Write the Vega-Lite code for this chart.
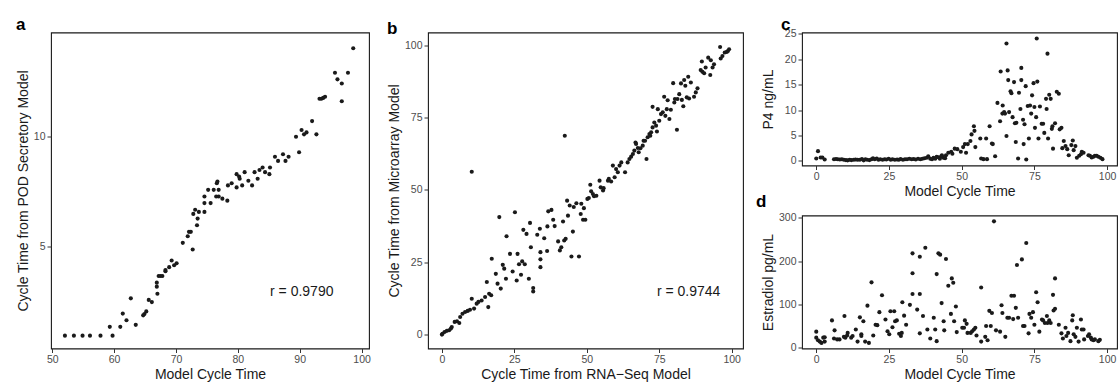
{
  "$schema": "https://vega.github.io/schema/vega-lite/v6.json",
  "background": "white",
  "padding": {"left": 15, "top": 14.5, "right": 0, "bottom": 0},
  "config": {
    "view": {"stroke": "#1a1a1a", "strokeWidth": 1.1},
    "axis": {"domain": false, "grid": false, "tickSize": 4, "tickColor": "#333333", "tickWidth": 1, "labelFont": "Liberation Sans", "labelFontSize": 10.5, "labelColor": "#4d4d4d", "labelPadding": 2, "labelFlush": false, "titleFont": "Liberation Sans", "titleFontSize": 14, "titleFontWeight": "normal", "titleColor": "#1a1a1a", "titlePadding": 3},
    "axisX": {"titlePadding": 2},
    "title": {"font": "Liberation Sans", "fontWeight": "bold", "fontSize": 17, "anchor": "start", "frame": "group", "color": "black", "offset": 0}
  },
  "bounds": "flush",
  "spacing": 59,
  "hconcat": [
    {
      "width": 318, "height": 316,
      "title": {"text": "a", "dx": -35, "dy": 5},
      "layer": [
        {"data": {"values": [{"x":52.05,"y":0.98},{"x":53.5,"y":0.98},{"x":54.9,"y":0.98},{"x":56.1,"y":0.98},{"x":57.8,"y":0.98},{"x":59.3,"y":1.38},{"x":59.75,"y":0.98},{"x":61.0,"y":1.38},{"x":61.4,"y":1.98},{"x":62.0,"y":1.68},{"x":62.7,"y":2.67},{"x":63.5,"y":1.47},{"x":64.7,"y":1.9},{"x":64.9,"y":1.96},{"x":65.2,"y":2.08},{"x":65.6,"y":2.6},{"x":66.1,"y":2.5},{"x":66.9,"y":3.38},{"x":66.9,"y":3.2},{"x":67.0,"y":2.88},{"x":67.2,"y":3.68},{"x":67.5,"y":3.68},{"x":67.8,"y":3.68},{"x":68.3,"y":3.9},{"x":68.3,"y":3.95},{"x":68.9,"y":4.08},{"x":69.3,"y":4.38},{"x":69.7,"y":4.17},{"x":70.1,"y":4.26},{"x":71.1,"y":5.18},{"x":71.9,"y":5.48},{"x":72.1,"y":5.68},{"x":72.4,"y":5.68},{"x":72.7,"y":4.88},{"x":72.8,"y":6.49},{"x":73.1,"y":6.68},{"x":73.4,"y":5.98},{"x":73.5,"y":6.28},{"x":73.7,"y":6.58},{"x":74.6,"y":6.58},{"x":74.6,"y":6.98},{"x":74.6,"y":7.28},{"x":75.2,"y":7.58},{"x":75.6,"y":6.98},{"x":76.1,"y":7.58},{"x":76.5,"y":7.28},{"x":76.6,"y":7.88},{"x":76.7,"y":7.96},{"x":76.9,"y":7.58},{"x":76.9,"y":7.28},{"x":77.5,"y":7.18},{"x":78.3,"y":7.09},{"x":78.4,"y":7.78},{"x":79.0,"y":7.88},{"x":79.8,"y":8.29},{"x":79.8,"y":7.69},{"x":80.2,"y":8.18},{"x":80.3,"y":8.08},{"x":80.7,"y":7.78},{"x":81.1,"y":8.38},{"x":81.7,"y":7.99},{"x":82.3,"y":7.78},{"x":82.7,"y":8.38},{"x":83.2,"y":8.08},{"x":83.5,"y":8.48},{"x":84.0,"y":8.59},{"x":84.4,"y":8.38},{"x":85.1,"y":8.29},{"x":85.2,"y":8.59},{"x":86.0,"y":9.08},{"x":86.5,"y":8.89},{"x":87.3,"y":9.19},{"x":87.7,"y":8.89},{"x":88.2,"y":9.08},{"x":89.4,"y":9.98},{"x":89.9,"y":9.28},{"x":90.3,"y":10.29},{"x":90.7,"y":10.09},{"x":91.1,"y":10.18},{"x":92.0,"y":10.69},{"x":92.7,"y":10.09},{"x":93.2,"y":11.7},{"x":93.5,"y":11.7},{"x":93.8,"y":11.74},{"x":94.1,"y":11.79},{"x":95.7,"y":12.88},{"x":96.1,"y":12.58},{"x":96.8,"y":12.39},{"x":96.8,"y":11.59},{"x":97.8,"y":12.88},{"x":98.65,"y":13.99}]},
         "mark": {"type": "circle", "size": 17, "color": "#1a1a1a", "opacity": 1},
         "encoding": {
           "x": {"field": "x", "type": "quantitative", "title": "Model Cycle Time", "scale": {"domain": [49.8, 101.2], "nice": false, "zero": false}, "axis": {"values": [50, 60, 70, 80, 90, 100]}},
           "y": {"field": "y", "type": "quantitative", "title": "Cycle Time from POD Secretory Model", "scale": {"domain": [0.4, 14.7], "nice": false, "zero": false}, "axis": {"values": [5, 10]}}
         }},
        {"data": {"values": [{"x": 85.2, "y": 2.95, "label": "r = 0.9790"}]},
         "mark": {"type": "text", "align": "left", "baseline": "middle", "font": "Liberation Sans", "fontSize": 14, "color": "#1a1a1a"},
         "encoding": {"x": {"field": "x", "type": "quantitative"}, "y": {"field": "y", "type": "quantitative"}, "text": {"field": "label"}}}
      ]
    },
    {
      "width": 315, "height": 316,
      "title": {"text": "b", "dx": -41, "dy": 9.5},
      "layer": [
        {"data": {"values": [{"x":0,"y":0},{"x":0.2,"y":0.3},{"x":0.9,"y":0.9},{"x":1.7,"y":1.3},{"x":2.5,"y":1.5},{"x":3.1,"y":2.1},{"x":3.4,"y":2.6},{"x":4.4,"y":4.4},{"x":5.2,"y":4.6},{"x":6,"y":4},{"x":6.3,"y":6.1},{"x":7.1,"y":7.2},{"x":8,"y":7.8},{"x":8.9,"y":8.2},{"x":9.7,"y":8.6},{"x":10.3,"y":12.4},{"x":11.1,"y":9},{"x":12,"y":10.7},{"x":12.6,"y":11.3},{"x":13.7,"y":11.8},{"x":14.9,"y":13},{"x":15.5,"y":18.2},{"x":16.3,"y":14.1},{"x":16,"y":9.5},{"x":17.2,"y":26.2},{"x":17,"y":13.6},{"x":18.6,"y":21},{"x":19.2,"y":17.6},{"x":19.8,"y":40.6},{"x":20.3,"y":15.9},{"x":21,"y":24.1},{"x":21.5,"y":22.8},{"x":22.1,"y":19.3},{"x":22.3,"y":34},{"x":23.5,"y":27.9},{"x":24.4,"y":21.8},{"x":25.2,"y":42.3},{"x":25.8,"y":18.7},{"x":26.1,"y":27.9},{"x":26.6,"y":24.3},{"x":27.3,"y":20.7},{"x":27.7,"y":25.3},{"x":28.1,"y":36.2},{"x":28.6,"y":24.3},{"x":29.2,"y":34.8},{"x":30,"y":19.3},{"x":30.4,"y":38.6},{"x":30.7,"y":30.2},{"x":31.5,"y":16.1},{"x":31.5,"y":14.9},{"x":32.9,"y":34.5},{"x":33.8,"y":36.6},{"x":34,"y":28.5},{"x":34,"y":26},{"x":34,"y":23.3},{"x":35.3,"y":33.3},{"x":36.3,"y":28.9},{"x":36.4,"y":37.4},{"x":36.7,"y":42.6},{"x":37.8,"y":43.1},{"x":38.4,"y":39.7},{"x":38.9,"y":37.5},{"x":40.1,"y":32.2},{"x":40.7,"y":29.1},{"x":41.2,"y":30.2},{"x":41.8,"y":39.1},{"x":42.2,"y":32.5},{"x":42.4,"y":68.7},{"x":42.7,"y":33.1},{"x":43.2,"y":46.3},{"x":43.5,"y":41.1},{"x":44.1,"y":44.6},{"x":44.7,"y":27},{"x":45.2,"y":35.6},{"x":45.5,"y":44.1},{"x":46.4,"y":45.4},{"x":47.3,"y":27},{"x":47.9,"y":41.7},{"x":48.1,"y":45.2},{"x":48.7,"y":39.7},{"x":49,"y":43.7},{"x":49.5,"y":39.7},{"x":50.2,"y":46.9},{"x":50.7,"y":47.2},{"x":51.2,"y":51.8},{"x":51.5,"y":49.5},{"x":52.1,"y":48.6},{"x":52.5,"y":47.8},{"x":53.3,"y":48},{"x":54.4,"y":53.2},{"x":54.8,"y":50.9},{"x":55.6,"y":49.8},{"x":55.8,"y":50.6},{"x":57.3,"y":53.2},{"x":57.6,"y":53.8},{"x":58.4,"y":52.9},{"x":59,"y":58.4},{"x":59.6,"y":54.4},{"x":60.1,"y":57.2},{"x":60.7,"y":56.1},{"x":61.3,"y":58.4},{"x":61.9,"y":59.5},{"x":63.2,"y":56.1},{"x":64.1,"y":59.5},{"x":64.7,"y":60.7},{"x":65.3,"y":61.5},{"x":65.9,"y":62.4},{"x":66.4,"y":63.6},{"x":66.8,"y":66.4},{"x":67,"y":65.9},{"x":67.6,"y":64.5},{"x":67.9,"y":63},{"x":68.5,"y":64.4},{"x":69.3,"y":65.3},{"x":69.6,"y":67},{"x":70.1,"y":67},{"x":70.6,"y":60.7},{"x":71,"y":68.2},{"x":71.6,"y":69.3},{"x":71.9,"y":68.7},{"x":72.2,"y":69.9},{"x":72.7,"y":78.7},{"x":72.7,"y":71.6},{"x":73.3,"y":73.3},{"x":73.9,"y":72.2},{"x":74.2,"y":70.2},{"x":74.5,"y":77.9},{"x":75,"y":73.9},{"x":75.6,"y":76.2},{"x":76.2,"y":76.8},{"x":76.7,"y":82.2},{"x":77.1,"y":75.6},{"x":77.6,"y":77.9},{"x":77.9,"y":81},{"x":78.5,"y":74.5},{"x":79,"y":77.7},{"x":79.8,"y":86.9},{"x":80.2,"y":80.2},{"x":80.4,"y":81.4},{"x":81.1,"y":70.8},{"x":81.3,"y":81.4},{"x":81.9,"y":83.1},{"x":82.5,"y":86.8},{"x":82.8,"y":81.1},{"x":83.3,"y":78.9},{"x":83.6,"y":88},{"x":84,"y":86},{"x":84.5,"y":82},{"x":85,"y":89.1},{"x":85.3,"y":81.6},{"x":85.9,"y":87.1},{"x":87,"y":82.2},{"x":87.6,"y":83.7},{"x":88.2,"y":85.1},{"x":89.7,"y":94.4},{"x":89.3,"y":91.4},{"x":89.9,"y":90.8},{"x":90.5,"y":90.3},{"x":91,"y":92.3},{"x":91.9,"y":95.7},{"x":92.6,"y":89.7},{"x":92.8,"y":94.8},{"x":93.4,"y":92.3},{"x":93.9,"y":93.4},{"x":96,"y":99.4},{"x":96.2,"y":95.4},{"x":96.8,"y":96.3},{"x":97.6,"y":97.5},{"x":98.3,"y":97.7},{"x":98.7,"y":98},{"x":99.1,"y":98.6},{"x":10.3,"y":56.3}]},
         "mark": {"type": "circle", "size": 17, "color": "#1a1a1a", "opacity": 1},
         "encoding": {
           "x": {"field": "x", "type": "quantitative", "title": "Cycle Time from RNA−Seq Model", "scale": {"domain": [-4.8, 103.9], "nice": false, "zero": false}, "axis": {"values": [0, 25, 50, 75, 100]}},
           "y": {"field": "y", "type": "quantitative", "title": "Cycle Time from Microarray Model", "scale": {"domain": [-4.8, 104.4], "nice": false, "zero": false}, "axis": {"values": [0, 25, 50, 75, 100]}}
         }},
        {"data": {"values": [{"x": 74.2, "y": 14.8, "label": "r = 0.9744"}]},
         "mark": {"type": "text", "align": "left", "baseline": "middle", "font": "Liberation Sans", "fontSize": 14, "color": "#1a1a1a"},
         "encoding": {"x": {"field": "x", "type": "quantitative"}, "y": {"field": "y", "type": "quantitative"}, "text": {"field": "label"}}}
      ]
    },
    {
      "bounds": "flush",
      "spacing": 50,
      "vconcat": [
        {
          "width": 315, "height": 133,
          "title": {"text": "c", "dx": -21, "dy": 9},
          "data": {"values": [{"x":0,"y":0.46},{"x":0.6,"y":1.9},{"x":1.5,"y":0.65},{"x":2.1,"y":0.65},{"x":2.9,"y":0.26},{"x":6.1,"y":0.3},{"x":6.8,"y":0.35},{"x":7.4,"y":0.3},{"x":8.1,"y":0.25},{"x":8.8,"y":0.3},{"x":9.5,"y":0.2},{"x":10.2,"y":0.15},{"x":10.8,"y":0.1},{"x":11.5,"y":0.2},{"x":12.1,"y":0.15},{"x":12.9,"y":0.2},{"x":13.5,"y":0.25},{"x":14.2,"y":0.2},{"x":15,"y":0.2},{"x":15.7,"y":0.35},{"x":16.3,"y":0.1},{"x":16.9,"y":0.3},{"x":17.5,"y":0.2},{"x":18.3,"y":0.15},{"x":19,"y":0.3},{"x":19.5,"y":0.5},{"x":20.1,"y":0.3},{"x":20.8,"y":0.45},{"x":21.4,"y":0.2},{"x":22,"y":0.3},{"x":22.8,"y":0.2},{"x":23.5,"y":0.3},{"x":24.1,"y":0.25},{"x":24.9,"y":0.4},{"x":25.6,"y":0.2},{"x":26.2,"y":0.3},{"x":27,"y":0.2},{"x":27.8,"y":0.25},{"x":28.4,"y":0.2},{"x":29,"y":0.35},{"x":29.8,"y":0.2},{"x":30.5,"y":0.3},{"x":31.2,"y":0.3},{"x":32,"y":0.4},{"x":32.8,"y":0.3},{"x":33.5,"y":0.35},{"x":34.2,"y":0.25},{"x":35,"y":0.4},{"x":35.8,"y":0.3},{"x":36.5,"y":0.4},{"x":37.2,"y":0.5},{"x":38,"y":0.6},{"x":38.5,"y":0.9},{"x":39.2,"y":0.4},{"x":39.8,"y":0.3},{"x":40.3,"y":0.6},{"x":40.9,"y":0.4},{"x":41.4,"y":0.8},{"x":42,"y":0.7},{"x":42.5,"y":0.4},{"x":43,"y":0.9},{"x":43.7,"y":0.6},{"x":44.3,"y":0.5},{"x":43.2,"y":1.1},{"x":44.6,"y":1.1},{"x":45.4,"y":1.6},{"x":46.4,"y":1.8},{"x":46.8,"y":1.4},{"x":47.6,"y":2.4},{"x":48.5,"y":2.3},{"x":49.7,"y":1.8},{"x":50.5,"y":2.7},{"x":51.1,"y":3.3},{"x":51.5,"y":1.6},{"x":52.1,"y":3.3},{"x":53,"y":3.9},{"x":53.4,"y":5.2},{"x":54.2,"y":6.8},{"x":54.4,"y":5.9},{"x":54.7,"y":2.7},{"x":56.4,"y":4.4},{"x":56.7,"y":0.46},{"x":57.5,"y":0.33},{"x":58.4,"y":4.4},{"x":58.7,"y":0.33},{"x":59.6,"y":6.8},{"x":60.4,"y":3.4},{"x":60.7,"y":3.3},{"x":61.5,"y":0.9},{"x":62.3,"y":11.4},{"x":63.2,"y":7.8},{"x":63.4,"y":17.6},{"x":64,"y":9.3},{"x":64.1,"y":10.9},{"x":64.6,"y":9.6},{"x":64.9,"y":9.3},{"x":65.4,"y":4.9},{"x":65.4,"y":23.1},{"x":65.8,"y":17.8},{"x":66,"y":15.9},{"x":66.3,"y":9.6},{"x":66.8,"y":13.7},{"x":67.1,"y":13.3},{"x":67.5,"y":8.6},{"x":68,"y":15.5},{"x":68.3,"y":7.4},{"x":68.6,"y":3.7},{"x":68.8,"y":7.5},{"x":69.4,"y":0.46},{"x":69.7,"y":13.4},{"x":70.2,"y":10.2},{"x":70.5,"y":18.3},{"x":70.5,"y":15.9},{"x":71.1,"y":8.1},{"x":71.3,"y":3.3},{"x":71.6,"y":7.2},{"x":72,"y":14.7},{"x":72.2,"y":0.26},{"x":72.7,"y":10.8},{"x":73.1,"y":4.4},{"x":73.5,"y":10.9},{"x":73.9,"y":9.3},{"x":74.2,"y":12.9},{"x":74.7,"y":15.3},{"x":75,"y":10.6},{"x":75.2,"y":6.5},{"x":75.6,"y":8.6},{"x":75.8,"y":24.1},{"x":76,"y":15.6},{"x":76.4,"y":4.4},{"x":76.9,"y":10.7},{"x":77.5,"y":7.3},{"x":78,"y":7.3},{"x":78.4,"y":5.5},{"x":79,"y":12.2},{"x":79.2,"y":10.2},{"x":79.5,"y":21.1},{"x":79.7,"y":4.4},{"x":80.1,"y":13},{"x":80.6,"y":12.2},{"x":81,"y":6.3},{"x":81.2,"y":6.8},{"x":81.4,"y":2.4},{"x":82.1,"y":7.4},{"x":82.7,"y":13.6},{"x":83.4,"y":13.2},{"x":83.7,"y":6.2},{"x":84.3,"y":6.5},{"x":84.6,"y":2.5},{"x":85.1,"y":3.9},{"x":85.7,"y":2.9},{"x":86.3,"y":2.3},{"x":86.8,"y":1.1},{"x":87.7,"y":3.1},{"x":88.2,"y":4},{"x":88.5,"y":2.1},{"x":89.1,"y":2.9},{"x":89.6,"y":0.6},{"x":90.4,"y":1},{"x":91,"y":1.3},{"x":91.3,"y":1.8},{"x":91.9,"y":1.6},{"x":93.6,"y":1.1},{"x":94.1,"y":1},{"x":94.7,"y":0.65},{"x":95.3,"y":0.8},{"x":95.8,"y":1},{"x":96.4,"y":1},{"x":97,"y":0.8},{"x":97.7,"y":0.6},{"x":98.4,"y":0.33}]},
          "mark": {"type": "circle", "size": 17, "color": "#1a1a1a", "opacity": 1},
          "encoding": {
            "x": {"field": "x", "type": "quantitative", "title": "Model Cycle Time", "scale": {"domain": [-4.9, 103.4], "nice": false, "zero": false}, "axis": {"values": [0, 25, 50, 75, 100]}},
            "y": {"field": "y", "type": "quantitative", "title": "P4 ng/mL", "scale": {"domain": [-0.92, 25.27], "nice": false, "zero": false}, "axis": {"values": [0, 5, 10, 15, 20, 25], "titlePadding": 9}}
          }
        },
        {
          "width": 315, "height": 133,
          "title": {"text": "d", "dx": -46, "dy": 2.5},
          "data": {"values": [{"x":0,"y":37},{"x":0,"y":23},{"x":0.6,"y":17},{"x":1.2,"y":14},{"x":1.8,"y":11},{"x":2.4,"y":23},{"x":2.9,"y":14},{"x":2.9,"y":24},{"x":5.4,"y":63},{"x":6.3,"y":40},{"x":6.1,"y":21},{"x":7.2,"y":19},{"x":8,"y":19},{"x":9.5,"y":25},{"x":9.7,"y":73},{"x":10,"y":23},{"x":10.6,"y":28},{"x":10.8,"y":34},{"x":12,"y":23},{"x":12.5,"y":27},{"x":13.6,"y":42},{"x":14.2,"y":14},{"x":15,"y":70},{"x":15.5,"y":31},{"x":15.5,"y":27},{"x":16.2,"y":61},{"x":16.8,"y":14},{"x":17.6,"y":97},{"x":18.1,"y":11},{"x":19,"y":151},{"x":19.6,"y":28},{"x":20.4,"y":53},{"x":21,"y":52},{"x":21.7,"y":82},{"x":22.6,"y":121},{"x":23.8,"y":65},{"x":24.5,"y":38},{"x":25.1,"y":31},{"x":25.5,"y":84},{"x":26.2,"y":47},{"x":26.8,"y":84},{"x":27.1,"y":61},{"x":27.7,"y":63},{"x":28.5,"y":32},{"x":29.1,"y":27},{"x":29.4,"y":34},{"x":29.6,"y":105},{"x":30.2,"y":74},{"x":30.9,"y":53},{"x":32.2,"y":99},{"x":33.1,"y":172},{"x":33.1,"y":218},{"x":33.1,"y":124},{"x":34.7,"y":88},{"x":35.6,"y":210},{"x":35.6,"y":124},{"x":35.6,"y":33},{"x":36.7,"y":73},{"x":37.5,"y":231},{"x":38.2,"y":42},{"x":39.2,"y":21},{"x":40.4,"y":69},{"x":40.9,"y":42},{"x":41.4,"y":170},{"x":41.4,"y":15},{"x":42,"y":218},{"x":42.6,"y":215},{"x":43.1,"y":103},{"x":43.8,"y":61},{"x":44,"y":40},{"x":44.6,"y":205},{"x":45.4,"y":143},{"x":46.3,"y":78},{"x":46.6,"y":160},{"x":47.1,"y":150},{"x":47.4,"y":61},{"x":48,"y":95},{"x":48.3,"y":36},{"x":50.2,"y":46},{"x":50.8,"y":46},{"x":51.1,"y":63},{"x":51.7,"y":55},{"x":52,"y":34},{"x":53.1,"y":34},{"x":53.6,"y":38},{"x":54.2,"y":42},{"x":54.7,"y":46},{"x":55.1,"y":28},{"x":56.7,"y":139},{"x":56.7,"y":14},{"x":58.1,"y":25},{"x":58.4,"y":50},{"x":58.9,"y":17},{"x":59.5,"y":85},{"x":60,"y":50},{"x":60.4,"y":80},{"x":61.1,"y":292},{"x":61.8,"y":40},{"x":63.2,"y":37},{"x":63.7,"y":98},{"x":64,"y":80},{"x":65,"y":25},{"x":65.7,"y":69},{"x":66.3,"y":69},{"x":67.1,"y":120},{"x":67.7,"y":66},{"x":68,"y":120},{"x":68.6,"y":92},{"x":69,"y":191},{"x":69.4,"y":69},{"x":70.7,"y":204},{"x":71.1,"y":50},{"x":71.6,"y":50},{"x":72.2,"y":242},{"x":73,"y":33},{"x":73.3,"y":78},{"x":73.9,"y":69},{"x":74.5,"y":82},{"x":75,"y":53},{"x":75.6,"y":128},{"x":76.1,"y":105},{"x":76.7,"y":37},{"x":77.6,"y":65},{"x":78,"y":63},{"x":78.6,"y":57},{"x":79.3,"y":73},{"x":79.5,"y":57},{"x":80.1,"y":63},{"x":80.6,"y":57},{"x":81.4,"y":122},{"x":81.6,"y":86},{"x":82.1,"y":90},{"x":82.1,"y":160},{"x":83.4,"y":53},{"x":84.3,"y":33},{"x":84.8,"y":21},{"x":85.7,"y":46},{"x":86,"y":27},{"x":86.6,"y":34},{"x":87.4,"y":15},{"x":88,"y":63},{"x":88.2,"y":75},{"x":88.5,"y":31},{"x":89.1,"y":25},{"x":89.6,"y":46},{"x":90.2,"y":14},{"x":91,"y":65},{"x":91.3,"y":42},{"x":91.9,"y":42},{"x":92.1,"y":19},{"x":93.4,"y":27},{"x":93.8,"y":31},{"x":94.4,"y":23},{"x":94.7,"y":19},{"x":95.3,"y":17},{"x":95.8,"y":19},{"x":97,"y":15},{"x":97.5,"y":18}]},
          "mark": {"type": "circle", "size": 17, "color": "#1a1a1a", "opacity": 1},
          "encoding": {
            "x": {"field": "x", "type": "quantitative", "title": "Model Cycle Time", "scale": {"domain": [-4.9, 103.4], "nice": false, "zero": false}, "axis": {"values": [0, 25, 50, 75, 100]}},
            "y": {"field": "y", "type": "quantitative", "title": "Estradiol pg/mL", "scale": {"domain": [-2, 305.5], "nice": false, "zero": false}, "axis": {"values": [0, 100, 200, 300]}}
          }
        }
      ]
    }
  ]
}
